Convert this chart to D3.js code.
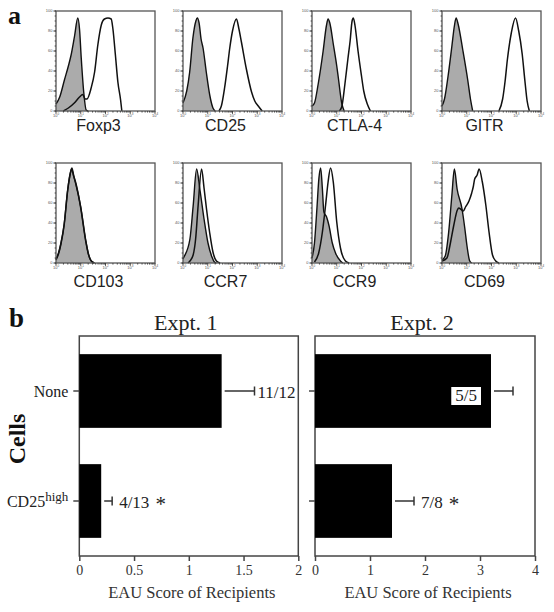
<!DOCTYPE html>
<html><head><meta charset="utf-8">
<script src="https://cdn.jsdelivr.net/npm/d3@7"></script>
<style>body{margin:0;background:#fff}svg{display:block}</style>
</head><body>
<svg id="c" width="554" height="612"></svg>
<script>
// ---------- Panel a: flow cytometry histograms ----------
const markers = ["Foxp3", "CD25", "CTLA-4", "GITR", "CD103", "CCR7", "CCR9", "CD69"];
// [log10 fluorescence, % of max]
const isotypeCurves = [
  [[0,7],[0.15,14],[0.34,31],[0.5,45],[0.61,56],[0.75,75],[0.88,93],[0.95,82],[1.02,53],[1.12,19],[1.22,1],[1.3,0]],
  [[0,8],[0.15,20],[0.27,39],[0.4,73],[0.52,90],[0.58,93],[0.65,88],[0.73,72],[0.81,63],[0.94,39],[1.08,16],[1.21,3],[1.3,0]],
  [[0,5],[0.1,8],[0.25,27],[0.45,60],[0.58,85],[0.65,92],[0.72,88],[0.86,67],[1.0,45],[1.06,34],[1.2,8],[1.3,0]],
  [[0,5],[0.1,12],[0.24,34],[0.4,65],[0.5,85],[0.57,93],[0.65,87],[0.84,61],[1.04,31],[1.15,12],[1.24,0]],
  [[0,4],[0.1,10],[0.2,20],[0.33,39],[0.47,73],[0.58,90],[0.63,94],[0.7,88],[0.8,79],[1.0,56],[1.2,23],[1.3,10],[1.4,3],[1.55,0]],
  [[0,4],[0.04,6],[0.28,24],[0.41,57],[0.55,94],[0.68,74],[0.85,44],[1.01,20],[1.17,6],[1.27,1],[1.35,0]],
  [[0,5],[0.1,20],[0.2,55],[0.28,85],[0.35,95],[0.42,74],[0.48,51],[0.59,46],[0.69,37],[0.82,20],[0.95,10],[1.15,2],[1.25,0]],
  [[0,3],[0.13,7],[0.27,31],[0.4,68],[0.5,94],[0.61,74],[0.81,54],[0.92,35],[1.01,17],[1.12,2],[1.2,0]]
];
const stainedCurves = [
  [[0.3,0],[0.5,3],[0.74,8],[0.95,14],[1.08,16.5],[1.18,12],[1.25,12],[1.42,23],[1.56,39],[1.69,66],[1.83,86],[1.96,92],[2.1,93],[2.23,92],[2.3,82],[2.4,56],[2.5,29],[2.61,11],[2.66,0]],
  [[1.45,0],[1.55,5],[1.68,23],[1.8,45],[1.89,63],[2.0,80],[2.16,92],[2.26,82],[2.36,69],[2.56,42],[2.77,19],[2.9,10],[3.04,5],[3.2,0]],
  [[1.1,0],[1.2,4],[1.33,27],[1.45,52],[1.54,70],[1.62,90],[1.67,93],[1.74,85],[1.86,60],[2.0,35],[2.09,20],[2.25,6],[2.36,0]],
  [[2.3,0],[2.45,12],[2.55,30],[2.64,51],[2.8,78],[2.97,93],[3.1,80],[3.24,57],[3.35,30],[3.44,10],[3.53,0]],
  [[0,3],[0.1,9],[0.2,19],[0.33,38],[0.47,72],[0.6,92],[0.64,95],[0.72,87],[0.82,78],[1.0,55],[1.2,22],[1.32,8],[1.42,2],[1.55,0]],
  [[0.2,0],[0.28,2],[0.41,8],[0.51,24],[0.61,57],[0.75,94],[0.85,75],[0.95,54],[1.08,30],[1.21,11],[1.35,2],[1.5,0]],
  [[0.1,1],[0.27,10],[0.42,31],[0.55,58],[0.65,81],[0.75,95],[0.86,81],[1.0,41],[1.15,15],[1.35,2],[1.5,0]],
  [[0,2],[0.2,5],[0.34,20],[0.47,37],[0.62,53],[0.68,55],[0.75,54],[0.86,52],[0.95,56],[1.09,62],[1.2,70],[1.27,77],[1.32,84],[1.42,88],[1.5,94],[1.63,81],[1.77,58],[1.9,31],[2.04,8],[2.17,2],[2.3,0]]
];
const histXTicks = [0, 1, 2, 3, 4];
const histYTicks = [0, 20, 40, 60, 80, 100];

// ---------- Panel b: EAU scores ----------
const cellGroups = ["None", "CD25high"];
const expt1Means = [1.3, 0.2];
const expt1Errors = [0.3, 0.1];
const expt1Incidence = ["11/12", "4/13"];
const expt2Means = [3.2, 1.4];
const expt2Errors = [0.4, 0.4];
const expt2Incidence = ["5/5", "7/8"];
const significant = [false, true];
const expt1Ticks = [0, 0.5, 1, 1.5, 2];
const expt2Ticks = [0, 1, 2, 3, 4];

const svg = d3.select("#c");
const serif = "'Liberation Serif','Times New Roman',serif";
const sans = "'Liberation Sans',Arial,sans-serif";

// Panel letters
svg.append("text").attr("x", 8).attr("y", 24).text("a")
  .style("font-family", serif).style("font-weight", "bold").style("font-size", "26px").attr("fill", "#111");
svg.append("text").attr("x", 9).attr("y", 327).text("b")
  .style("font-family", serif).style("font-weight", "bold").style("font-size", "27px").attr("fill", "#111");

// ---------- histograms ----------
const hW = 99, hH = 100;
const colX = [56, 183, 312, 442];
const rowY = [11, 163];
const labelBase = [131, 287];
const hx = d3.scaleLinear().domain([0, 4]).range([0, hW]);
const hy = d3.scaleLinear().domain([0, 100]).range([hH, 0]);
const area = d3.area().x(d => hx(d[0])).y0(hy(0)).y1(d => hy(d[1])).curve(d3.curveMonotoneX);
const line = d3.line().x(d => hx(d[0])).y(d => hy(d[1])).curve(d3.curveMonotoneX);

markers.forEach((m, i) => {
  const c = i % 4, r = Math.floor(i / 4);
  const g = svg.append("g").attr("transform", `translate(${colX[c]},${rowY[r]})`);
  g.append("path").datum(isotypeCurves[i]).attr("d", area).attr("fill", "#ababab");
  g.append("path").datum(isotypeCurves[i]).attr("d", line).attr("fill", "none").attr("stroke", "#111").attr("stroke-width", 1.4);
  g.append("path").datum(stainedCurves[i]).attr("d", line).attr("fill", "none").attr("stroke", "#111").attr("stroke-width", 1.5);
  g.append("rect").attr("width", hW).attr("height", hH).attr("fill", "none").attr("stroke", "#555").attr("stroke-width", 1.3);
  const minor = [];
  for (let dec = 0; dec < 4; dec++) for (let k = 2; k <= 9; k++) minor.push(dec + Math.log10(k));
  g.selectAll(null).data(minor).enter().append("line")
    .attr("x1", d => hx(d)).attr("x2", d => hx(d)).attr("y1", hH).attr("y2", hH + 1.6)
    .attr("stroke", "#333").attr("stroke-width", 0.8);
  g.selectAll(null).data(histXTicks).enter().append("line")
    .attr("x1", d => hx(d)).attr("x2", d => hx(d)).attr("y1", hH).attr("y2", hH + 2.8)
    .attr("stroke", "#333").attr("stroke-width", 0.9);
  const xl = g.selectAll(null).data(histXTicks).enter().append("text")
    .attr("x", d => hx(d)).attr("y", hH + 5.8).attr("text-anchor", "middle")
    .style("font-family", sans).style("font-size", "4px").attr("fill", "#555");
  xl.append("tspan").text("10");
  xl.append("tspan").attr("dy", -1.4).style("font-size", "3px").text(d => d);
  const yminor = d3.range(0, 101, 5);
  g.selectAll(null).data(yminor).enter().append("line")
    .attr("x1", -1.4).attr("x2", 0).attr("y1", d => hy(d)).attr("y2", d => hy(d))
    .attr("stroke", "#333").attr("stroke-width", 0.8);
  g.selectAll(null).data(histYTicks).enter().append("line")
    .attr("x1", -2.6).attr("x2", 0).attr("y1", d => hy(d)).attr("y2", d => hy(d))
    .attr("stroke", "#333").attr("stroke-width", 0.9);
  g.selectAll(null).data(histYTicks).enter().append("text")
    .attr("x", -3.5).attr("y", d => hy(d) + 1.4).attr("text-anchor", "end")
    .style("font-family", sans).style("font-size", "4px").attr("fill", "#555").text(d => d);
  svg.append("text").attr("x", colX[c] + hW / 2 - 7).attr("y", labelBase[r]).attr("text-anchor", "middle")
    .style("font-family", sans).style("font-size", "16px").attr("fill", "#222").text(m);
});

// ---------- bar charts ----------
const plotTop = 336, plotBottom = 556;
const yb = d3.scaleBand().domain(cellGroups).range([plotTop, plotBottom]).paddingInner(0.33).paddingOuter(0.165);
const panels = [
  {x: d3.scaleLinear().domain([0, 2]).range([79.3, 298.3]), means: expt1Means, errs: expt1Errors, inc: expt1Incidence, ticks: expt1Ticks, title: "Expt. 1", labels: true},
  {x: d3.scaleLinear().domain([0, 4]).range([315, 535]), means: expt2Means, errs: expt2Errors, inc: expt2Incidence, ticks: expt2Ticks, title: "Expt. 2", labels: false}
];
const axisCol = "#444";

panels.forEach(p => {
  const [x0, x1] = p.x.range();
  const g = svg.append("g");
  g.append("rect").attr("x", x0).attr("y", plotTop).attr("width", x1 - x0).attr("height", plotBottom - plotTop)
    .attr("fill", "none").attr("stroke", axisCol).attr("stroke-width", 1.5);
  g.selectAll(null).data(cellGroups).enter().append("rect")
    .attr("x", p.x(0)).attr("y", d => yb(d))
    .attr("width", (d, i) => p.x(p.means[i]) - p.x(0)).attr("height", yb.bandwidth())
    .attr("fill", "#000");
  cellGroups.forEach((cg, i) => {
    const cy = yb(cg) + yb.bandwidth() / 2;
    const xe = p.x(p.means[i] + p.errs[i]);
    g.append("line").attr("x1", p.x(p.means[i]) + 3).attr("x2", xe).attr("y1", cy).attr("y2", cy)
      .attr("stroke", "#333").attr("stroke-width", 1.5);
    g.append("line").attr("x1", xe).attr("x2", xe).attr("y1", cy - 4.5).attr("y2", cy + 4.5)
      .attr("stroke", "#333").attr("stroke-width", 1.5);
    const t = g.append("text").attr("y", cy + 7).style("font-family", serif).style("font-size", "17px")
      .attr("fill", "#222").text(p.inc[i]);
    const w = t.node().getComputedTextLength();
    let tx = xe + 7;
    if (tx + w > x1 + 0.5) {
      if (xe + 3 + w <= x1 + 0.5) tx = xe + 3;
      else {
        // no room outside: white label box inside the bar
        tx = p.x(p.means[i]) - 14 - w;
        t.attr("y", cy + 10);
        g.append("rect").attr("x", tx - 4).attr("y", cy - 4).attr("width", w + 8).attr("height", 18).attr("fill", "#fff");
        t.raise();
      }
    }
    t.attr("x", tx);
    if (significant[i]) {
      g.append("text").attr("x", tx + w + 6).attr("y", cy + 10).style("font-family", serif).style("font-size", "21px")
        .attr("fill", "#222").text("*");
    }
  });
  const ax = g.append("g").attr("transform", `translate(0,${plotBottom})`)
    .call(d3.axisBottom(p.x).tickValues(p.ticks).tickFormat(d => String(d)).tickSize(5).tickSizeOuter(0).tickPadding(4));
  ax.select(".domain").remove();
  ax.selectAll("line").attr("stroke", axisCol).attr("stroke-width", 1.5);
  ax.selectAll("text").style("font-family", serif).style("font-size", "14px").attr("fill", "#333");
  const ay = g.append("g").attr("transform", `translate(${x0},0)`)
    .call(d3.axisLeft(yb).tickSize(6).tickSizeOuter(0).tickFormat(""));
  ay.select(".domain").remove();
  ay.selectAll("line").attr("stroke", axisCol).attr("stroke-width", 1.5);
  g.append("text").attr("x", (x0 + x1) / 2 - 3).attr("y", 330).attr("text-anchor", "middle")
    .style("font-family", serif).style("font-size", "22px").attr("fill", "#222").text(p.title);
  g.append("text").attr("x", (x0 + x1) / 2 + 3).attr("y", 598).attr("text-anchor", "middle")
    .style("font-family", serif).style("font-size", "16.5px").attr("fill", "#333").text("EAU Score of Recipients");
  if (p.labels) {
    cellGroups.forEach((cg, i) => {
      const cy = yb(cg) + yb.bandwidth() / 2;
      const t = svg.append("text").attr("x", x0 - 11).attr("y", cy + 6).attr("text-anchor", "end")
        .style("font-family", serif).style("font-size", "16px").attr("fill", "#222");
      if (cg === "CD25high") {
        t.append("tspan").text("CD25");
        t.append("tspan").attr("dy", -6).style("font-size", "13px").text("high");
      } else t.text(cg);
    });
  }
});

svg.append("text").attr("transform", `translate(25,439) rotate(-90)`).attr("text-anchor", "middle")
  .style("font-family", serif).style("font-weight", "bold").style("font-size", "24px").attr("fill", "#111").text("Cells");
</script>
</body></html>
